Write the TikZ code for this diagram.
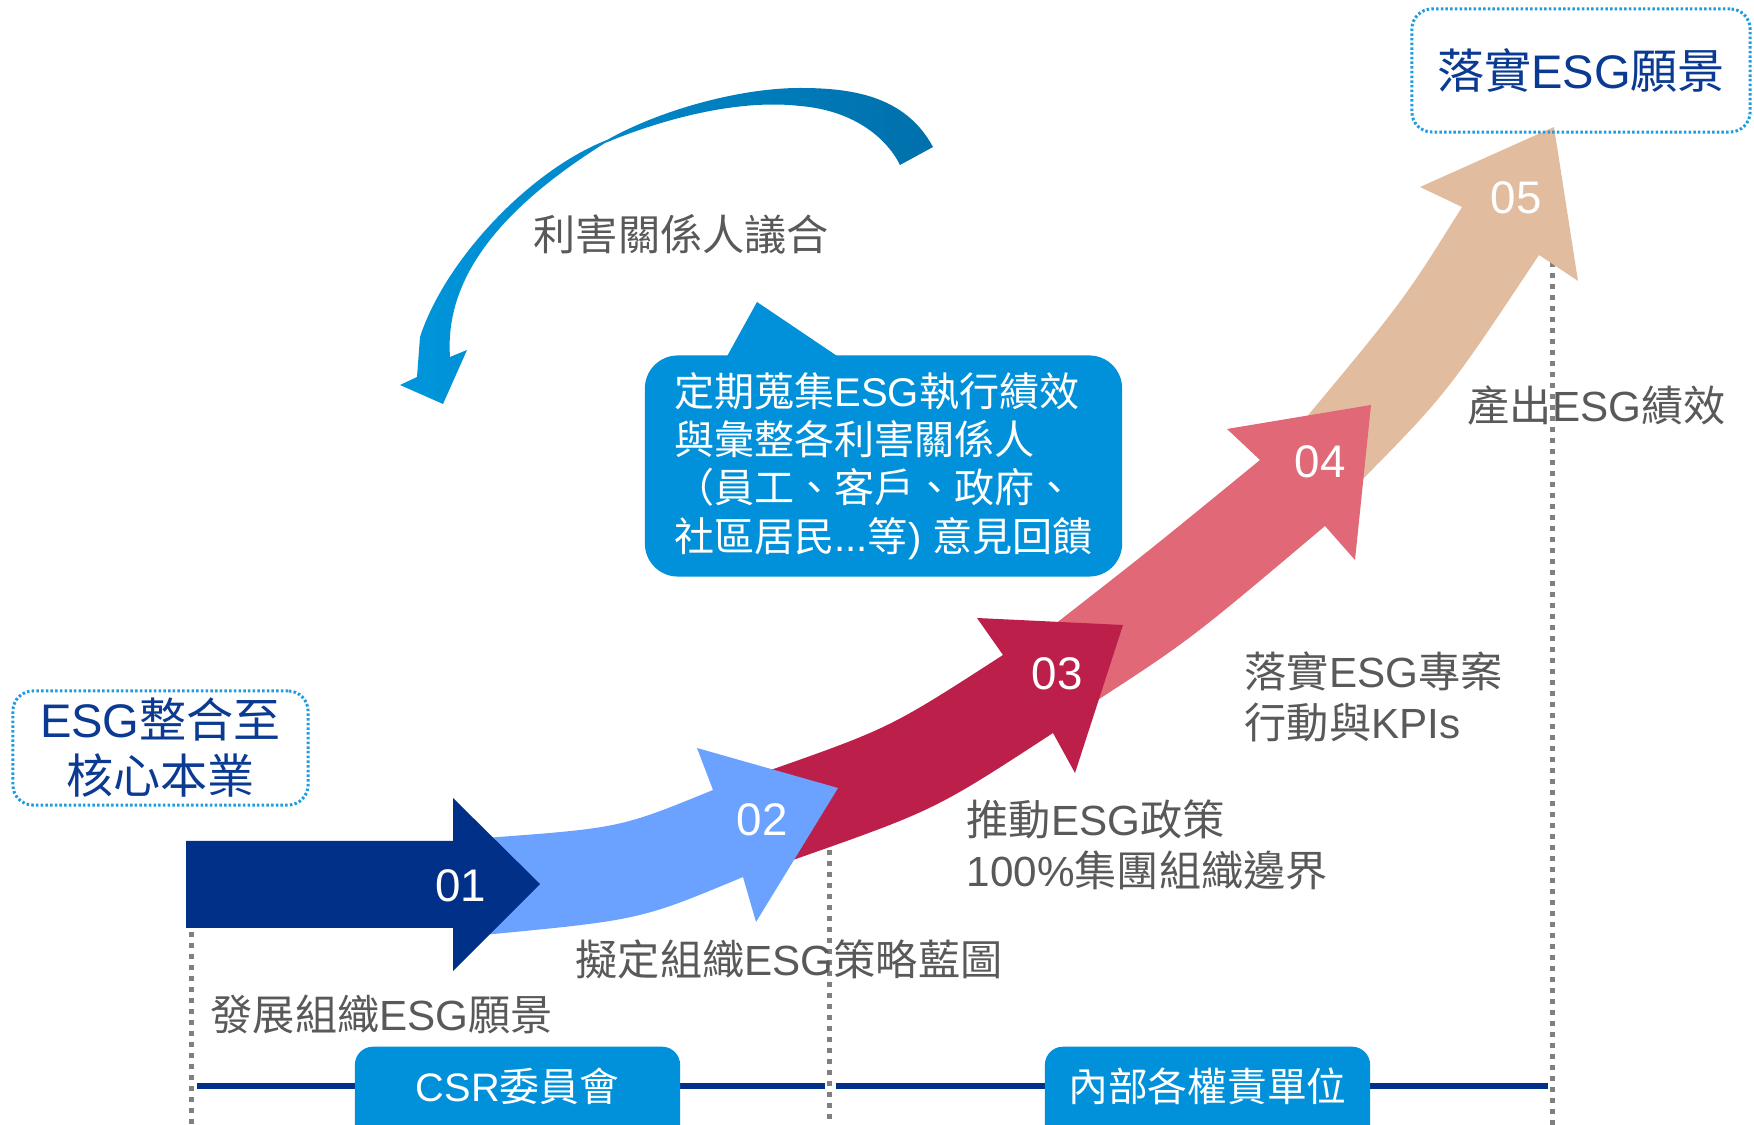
\documentclass[tikz,border=0pt]{standalone}
\usepackage{fontspec}
\setmainfont{Liberation Sans}
\newfontfamily\latinfont{Liberation Sans}
\newfontfamily\cjkfont{Noto Sans CJK TC}
% switch to the CJK font for Han characters and CJK punctuation
\XeTeXinterchartokenstate=1
\newXeTeXintercharclass\cjkclass
\count255="3000
\loop \XeTeXcharclass\count255=\cjkclass \advance\count255 by 1 \ifnum\count255<"3040 \repeat
\count255="4E00
\loop \XeTeXcharclass\count255=\cjkclass \advance\count255 by 1 \ifnum\count255<"A000 \repeat
\count255="FF00
\loop \XeTeXcharclass\count255=\cjkclass \advance\count255 by 1 \ifnum\count255<"FFF0 \repeat
\XeTeXinterchartoks 0 \cjkclass = {\cjkfont}
\XeTeXinterchartoks 4095 \cjkclass = {\cjkfont}
\XeTeXinterchartoks \cjkclass 0 = {\latinfont}
\XeTeXinterchartoks \cjkclass 4095 = {\latinfont}
\definecolor{navy01}{HTML}{003087}
\definecolor{blue02}{HTML}{6CA2FF}
\definecolor{red03}{HTML}{BC1F4A}
\definecolor{pink04}{HTML}{E06877}
\definecolor{tan05}{HTML}{E2BC9F}
\definecolor{boxblue}{HTML}{0091DA}
\definecolor{bigleft}{HTML}{0096DC}
\definecolor{bigright}{HTML}{0070AB}
\definecolor{labelgray}{HTML}{595959}
\definecolor{guidegray}{HTML}{808080}
\definecolor{navytext}{HTML}{0B3A92}
\definecolor{dotblue}{HTML}{1E9CE0}

\begin{document}
\begin{tikzpicture}
	[x=0.01cm, y=-0.01cm,
	num/.style={text=white, font=\fontsize{13}{13}\selectfont, inner sep=0pt},
	graylbl/.style={text=labelgray, font=\fontsize{12}{14.5}\selectfont, align=left, anchor=west, inner sep=0pt},
	goalbox/.style={draw=dotblue, line width=0.03cm, dash pattern=on 0.025cm off 0.022cm, rounded corners=0.2cm, text=navytext, font=\fontsize{13.4}{15.9}\selectfont, align=center, inner sep=0pt},
	unitbox/.style={fill=boxblue, rounded corners=0.18cm, minimum width=3.25cm, minimum height=1.3cm, anchor=north, inner sep=0pt},
	unittext/.style={text=white, font=\fontsize{11.3}{11.3}\selectfont, inner sep=0pt},
	bubble/.style={fill=boxblue, rounded corners=0.33cm, minimum width=4.77cm, minimum height=2.21cm, text=white, align=left, font=\fontsize{11.4}{13.7}\selectfont},
	guide/.style={draw=guidegray, line width=0.05cm, dash pattern=on 0.05cm off 0.06cm},
	orgline/.style={draw=navy01, line width=0.05cm}]
	\useasboundingbox (0,0) rectangle (1754,1125);
	\clip (0,0) rectangle (1754,1125);

	% dotted guides
	\coordinate (g1top) at (191,932);
	\coordinate (g1bot) at (191,1125);
	\coordinate (g2top) at (829,850);
	\coordinate (g2bot) at (829,1125);
	\coordinate (g3top) at (1552,262);
	\coordinate (g3bot) at (1552,1125);
	\draw[guide] (g1top) -- (g1bot);
	\draw[guide] (g2top) -- (g2bot);
	\draw[guide] (g3top) -- (g3bot);

	% organisation line and units
	\coordinate (lineA) at (197,1086);
	\coordinate (lineB) at (825,1086);
	\coordinate (lineC) at (836,1086);
	\coordinate (lineD) at (1548,1086);
	\draw[orgline] (lineA) -- (lineB);
	\draw[orgline] (lineC) -- (lineD);
	\node (csr) [unitbox] at (517.5,1046) {};
	\node (csrtxt) [unittext] at ([yshift=-0.4cm]csr.north) {CSR委員會};
	\node (units) [unitbox] at (1207.5,1046) {};
	\node (unitstxt) [unittext] at ([yshift=-0.4cm]units.north) {內部各權責單位};

	% step arrows, back to front
	\fill[tan05] (1300,425) .. controls (1404,300) .. (1462,207) -- (1420,187) -- (1554,127) -- (1578,281) -- (1539,255) .. controls (1446,395) .. (1352,490) -- cycle;
	\fill[pink04] (1050,628) .. controls (1150,550) .. (1260,460) -- (1227,429) -- (1371,405) -- (1355,560) -- (1325,526) .. controls (1190,640) .. (1090,705) -- cycle;
	\fill[red03] (765,772) .. controls (890,728) .. (1003,655) -- (977,618) -- (1123,625) -- (1075,773) -- (1053,733) .. controls (935,810) .. (793,860) -- cycle;
	\fill[blue02] (485,838) .. controls (620,828) .. (713,790) -- (697,748) -- (838,788) -- (756,922) -- (743,877) .. controls (640,920) .. (483,935) -- cycle;
	\fill[navy01] (186,841) -- (453,841) -- (453,798) -- (540,884) -- (453,971) -- (453,928) -- (186,928) -- cycle;

	\node (n01) [num] at (461,886) {01};
	\node (n02) [num] at (762,820) {02};
	\node (n03) [num] at (1057,674) {03};
	\node (n04) [num] at (1320,462) {04};
	\node (n05) [num] at (1516,198) {05};

	% stakeholder loop
	\shade[left color=bigleft, right color=bigright] (933,147) .. controls (905,95) and (850,88) .. (800,88) .. controls (740,88) and (660,110) .. (607,140) .. controls (530,170) and (445,260) .. (420,337) -- (417,377) -- (400,385) -- (443,404) -- (467,350) -- (450,357) .. controls (445,285) and (490,215) .. (605,143) .. controls (680,112) and (750,100) .. (800,106) .. controls (850,110) and (885,135) .. (900,165) -- cycle;
	\node (stake) [graylbl] at (533,234) {利害關係人議合};

	% feedback bubble
	\fill[boxblue] (725,360) -- (757,302) -- (843,360) -- cycle;
	\node (bubble) [bubble] at (883.5,466) {定期蒐集ESG執行績效\\與彙整各利害關係人\\（員工、客戶、政府、\\社區居民...等) 意見回饋};

	% step labels
	\node (l01) [graylbl] at (210,1014) {發展組織ESG願景};
	\node (l02) [graylbl] at (575,959) {擬定組織ESG策略藍圖};
	\node (l03) [graylbl] at (966,845) {推動ESG政策\\100\%集團組織邊界};
	\node (l04) [graylbl] at (1244,697) {落實ESG專案\\行動與KPIs};
	\node (l05) [graylbl] at (1467,405) {產出ESG績效};

	% goals
	\node (core) [goalbox, minimum width=2.95cm, minimum height=1.14cm] at (160.5,748) {ESG整合至\\核心本業};
	\node (vision) [goalbox, minimum width=3.38cm, minimum height=1.23cm] at (1581,70.5) {落實ESG願景};
\end{tikzpicture}
\end{document}
